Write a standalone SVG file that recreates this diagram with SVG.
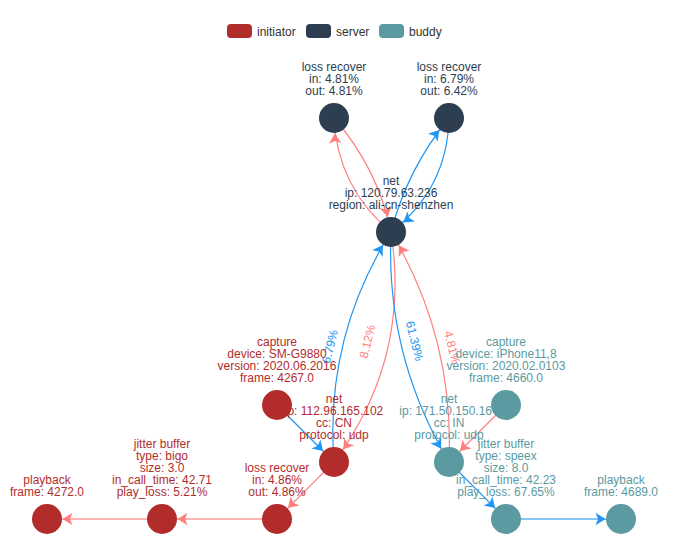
<svg xmlns="http://www.w3.org/2000/svg" width="683" height="558" viewBox="0 0 683 558">
<style>
text{font-family:"Liberation Sans",Arial,sans-serif;font-size:12px}
.leg{fill:#333}
.srv{fill:#2c3e50}
.ini{fill:#b22c2c}
.bud{fill:#5b9aa0}
.lbl{text-anchor:middle}
.er{fill:none;stroke:#ff7f7f;stroke-width:1.2}
.eb{fill:none;stroke:#2196f3;stroke-width:1.2}
.erw{fill:none;stroke:#ff7f7f;stroke-width:2;stroke-opacity:0.6}
.ebw{fill:none;stroke:#2196f3;stroke-width:2;stroke-opacity:0.55}
.tr{fill:#ff7f7f;text-anchor:middle}
.tb{fill:#2196f3;text-anchor:middle}
</style>
<defs>
<marker id="ar" viewBox="-20 -10 20 20" refX="15.5" refY="0" markerWidth="20" markerHeight="20" markerUnits="userSpaceOnUse" orient="auto" overflow="visible"><path d="M0,0 L-10,-6.3 L-7.5,0 L-10,6.3 Z" fill="#ff7f7f"/></marker>
<marker id="ab" viewBox="-20 -10 20 20" refX="15.5" refY="0" markerWidth="20" markerHeight="20" markerUnits="userSpaceOnUse" orient="auto" overflow="visible"><path d="M0,0 L-10,-6.3 L-7.5,0 L-10,6.3 Z" fill="#2196f3"/></marker>
</defs>
<rect width="683" height="558" fill="#fff"/>
<g id="legend">
<rect x="227" y="24" width="25" height="14" rx="4" class="ini"/>
<text x="257" y="35.5" class="leg">initiator</text>
<rect x="306" y="24" width="25" height="14" rx="4" class="srv"/>
<text x="336" y="35.5" class="leg">server</text>
<rect x="379" y="24" width="25" height="14" rx="4" class="bud"/>
<text x="409" y="35.5" class="leg">buddy</text>
</g>
<g id="edges">
<path class="er" d="M391,232 Q337.4,187.5 334,118" marker-end="url(#ar)"/>
<path class="er" d="M334,118 Q377.3,167.6 391,232" marker-end="url(#ar)"/>
<path class="eb" d="M391,232 Q407.5,168.6 449,118" marker-end="url(#ab)"/>
<path class="eb" d="M449,118 Q447.4,188.9 391,232" marker-end="url(#ab)"/>
<path class="eb" d="M334,462 Q324.5,337.6 391,232" marker-end="url(#ab)"/>
<path class="er" d="M391,232 Q410.8,359 334,462" marker-end="url(#ar)"/>
<path class="eb" d="M391,232 Q385.5,355.7 449,462" marker-end="url(#ab)"/>
<path class="er" d="M449,462 Q454.5,338.3 391,232" marker-end="url(#ar)"/>
<path class="eb" d="M277,405 L334,462" marker-end="url(#ab)"/>
<path class="er" d="M506,405 L449,462" marker-end="url(#ar)"/>
<path class="eb" d="M449,462 L506,519" marker-end="url(#ab)"/>
<path class="ebw" d="M506,519 L621,519" marker-end="url(#ab)"/>
<path class="er" d="M334,462 L277,519" marker-end="url(#ar)"/>
<path class="erw" d="M277,519 L162,519" marker-end="url(#ar)"/>
<path class="erw" d="M162,519 L47,519" marker-end="url(#ar)"/>
<text class="tb" transform="translate(330,346.5) rotate(-76)" dy="4">6.79%</text>
<text class="tr" transform="translate(367.5,341.5) rotate(-76)" dy="4">8.12%</text>
<text class="tb" transform="translate(414.5,341) rotate(76)" dy="4">61.39%</text>
<text class="tr" transform="translate(452,347.5) rotate(76)" dy="4">4.81%</text>
</g>
<g id="server-loss-recover-1">
<text class="srv lbl"><tspan x="334" y="71">loss recover</tspan><tspan x="334" y="83">in: 4.81%</tspan><tspan x="334" y="95">out: 4.81%</tspan></text>
<circle cx="334" cy="118" r="15" class="srv"/>
</g>
<g id="server-loss-recover-2">
<text class="srv lbl"><tspan x="449" y="71">loss recover</tspan><tspan x="449" y="83">in: 6.79%</tspan><tspan x="449" y="95">out: 6.42%</tspan></text>
<circle cx="449" cy="118" r="15" class="srv"/>
</g>
<g id="server-net">
<text class="srv lbl"><tspan x="391" y="185">net</tspan><tspan x="391" y="197">ip: 120.79.63.236</tspan><tspan x="391" y="209">region: ali-cn-shenzhen</tspan></text>
<circle cx="391" cy="232" r="15" class="srv"/>
</g>
<g id="initiator-net">
<text class="ini lbl"><tspan x="334" y="403">net</tspan><tspan x="334" y="415">ip: 112.96.165.102</tspan><tspan x="334" y="427">cc: CN</tspan><tspan x="334" y="439">protocol: udp</tspan></text>
<circle cx="334" cy="462" r="15" class="ini"/>
</g>
<g id="initiator-capture">
<text class="ini lbl"><tspan x="277" y="346">capture</tspan><tspan x="277" y="358">device: SM-G9880</tspan><tspan x="277" y="370">version: 2020.06.2016</tspan><tspan x="277" y="382">frame: 4267.0</tspan></text>
<circle cx="277" cy="405" r="15" class="ini"/>
</g>
<g id="initiator-loss-recover">
<text class="ini lbl"><tspan x="277" y="472">loss recover</tspan><tspan x="277" y="484">in: 4.86%</tspan><tspan x="277" y="496">out: 4.86%</tspan></text>
<circle cx="277" cy="519" r="15" class="ini"/>
</g>
<g id="initiator-jitter-buffer">
<text class="ini lbl"><tspan x="162" y="448">jitter buffer</tspan><tspan x="162" y="460">type: bigo</tspan><tspan x="162" y="472">size: 3.0</tspan><tspan x="162" y="484">in_call_time: 42.71</tspan><tspan x="162" y="496">play_loss: 5.21%</tspan></text>
<circle cx="162" cy="519" r="15" class="ini"/>
</g>
<g id="initiator-playback">
<text class="ini lbl"><tspan x="47" y="484">playback</tspan><tspan x="47" y="496">frame: 4272.0</tspan></text>
<circle cx="47" cy="519" r="15" class="ini"/>
</g>
<g id="buddy-net">
<text class="bud"><tspan x="449" y="403" text-anchor="middle">net</tspan><tspan x="399.3" y="415">ip: 171.50.150.16</tspan><tspan x="449" y="427" text-anchor="middle">cc: IN</tspan><tspan x="449" y="439" text-anchor="middle">protocol: udp</tspan></text>
<circle cx="449" cy="462" r="15" class="bud"/>
</g>
<g id="buddy-capture">
<text class="bud lbl"><tspan x="506" y="346">capture</tspan><tspan x="506" y="358">device: iPhone11,8</tspan><tspan x="506" y="370">version: 2020.02.0103</tspan><tspan x="506" y="382">frame: 4660.0</tspan></text>
<circle cx="506" cy="405" r="15" class="bud"/>
</g>
<g id="buddy-jitter-buffer">
<text class="bud lbl"><tspan x="506" y="448">jitter buffer</tspan><tspan x="506" y="460">type: speex</tspan><tspan x="506" y="472">size: 8.0</tspan><tspan x="506" y="484">in_call_time: 42.23</tspan><tspan x="506" y="496">play_loss: 67.65%</tspan></text>
<circle cx="506" cy="519" r="15" class="bud"/>
</g>
<g id="buddy-playback">
<text class="bud lbl"><tspan x="621" y="484">playback</tspan><tspan x="621" y="496">frame: 4689.0</tspan></text>
<circle cx="621" cy="519" r="15" class="bud"/>
</g>
</svg>
